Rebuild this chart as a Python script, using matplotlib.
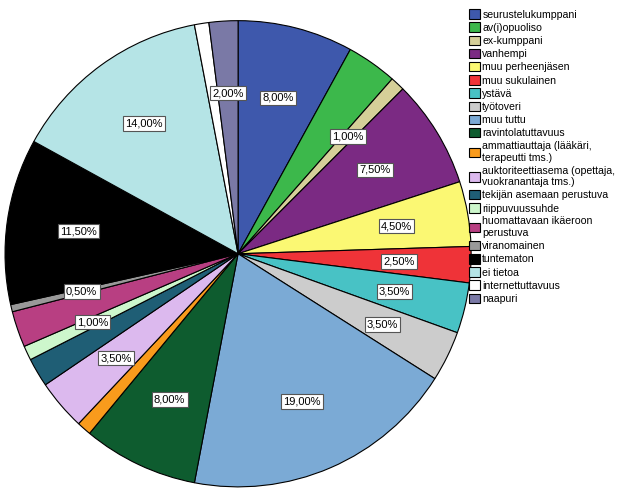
import numpy as np
import matplotlib
matplotlib.use("Agg")
import matplotlib.pyplot as plt

plt.rcParams["font.family"] = ["Liberation Sans", "DejaVu Sans"]

categories = [
    "seurustelukumppani", "av(i)opuoliso", "ex-kumppani", "vanhempi",
    "muu perheenjäsen", "muu sukulainen", "ystävä", "työtoveri", "muu tuttu",
    "ravintolatuttavuus", "ammattiauttaja (lääkäri,\nterapeutti tms.)",
    "auktoriteettiasema (opettaja,\nvuokranantaja tms.)",
    "tekijän asemaan perustuva", "riippuvuussuhde",
    "huomattavaan ikäeroon\nperustuva", "viranomainen", "tuntematon",
    "ei tietoa", "internettuttavuus", "naapuri",
]
percent = [8.0, 3.5, 1.0, 7.5, 4.5, 2.5, 3.5, 3.5, 19.0, 8.0,
           1.0, 3.5, 2.0, 1.0, 2.5, 0.5, 11.5, 14.0, 1.0, 2.0]
# which slices carry a value label in the original
labelled = [True, False, True, True, True, True, True, True, True, True,
            False, True, False, True, False, True, True, True, False, True]
colors = ["#3e58ac", "#3cb84b", "#d5cf98", "#7b2a83", "#fbf873", "#ef3338",
          "#48c2c5", "#cccccc", "#7baad5", "#0e5c2f", "#f99b1c", "#dcb9ee",
          "#1f5e75", "#cdf7cc", "#b83f82", "#999999", "#000000", "#b5e4e6",
          "#ffffff", "#7a79a6"]

fig = plt.figure(figsize=(6.29, 5.04), dpi=100)
ax = fig.add_axes([0.008, 0.034, 0.741, 0.925])

wedges, _ = ax.pie(percent, colors=colors, startangle=90, counterclock=False,
                   radius=1.0,
                   wedgeprops=dict(edgecolor="black", linewidth=0.8))
ax.set_xlim(-1.0, 1.0)
ax.set_ylim(-1.0, 1.0)
ax.set_aspect("auto")

for w, p, show in zip(wedges, percent, labelled):
    if not show:
        continue
    ang = np.deg2rad((w.theta1 + w.theta2) / 2)
    r = 0.69
    txt = f"{p:.2f}".replace(".", ",") + "%"
    ax.text(r * np.cos(ang), r * np.sin(ang), txt, ha="center", va="center",
            fontsize=8,
            bbox=dict(boxstyle="square,pad=0.2", fc="white", ec="#555555", lw=0.8))

fig.legend(wedges, categories, loc="upper left",
           bbox_to_anchor=(0.739, 0.99), frameon=False, fontsize=7.6,
           handlelength=1.0, handleheight=1.0, handletextpad=0.25,
           labelspacing=0.27, borderaxespad=0)

fig.savefig("out.png", dpi=100)
